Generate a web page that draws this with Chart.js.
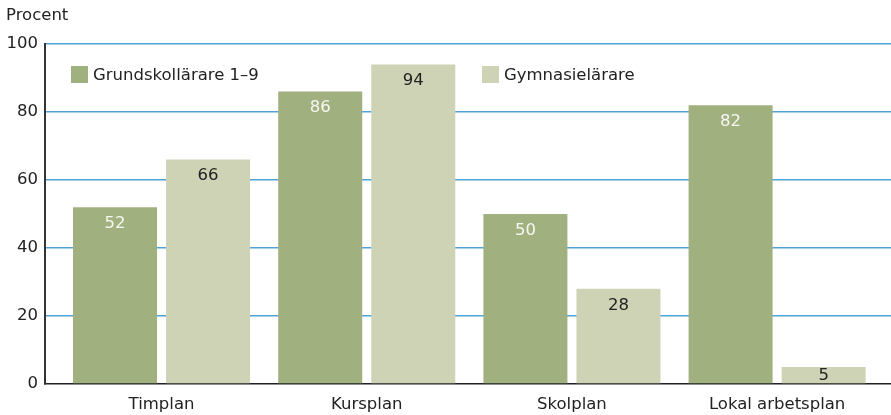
<!DOCTYPE html>
<html lang="sv">
<head>
<meta charset="utf-8">
<title>Procent</title>
<script src="https://cdn.jsdelivr.net/npm/chart.js@4.4.1/dist/chart.umd.min.js"></script>
<style>
  html, body { margin: 0; padding: 0; background: #fff; }
  #wrap { position: relative; width: 891px; height: 415px; }
  #legend { position: absolute; left: 0; top: 0; font: 16.5px "DejaVu Sans", sans-serif; color: #222; }
  #legend .item { position: absolute; white-space: nowrap; display: flex; align-items: center; }
  #legend .box { width: 17px; height: 17px; margin-right: 5px; }
</style>
</head>
<body>
<div id="wrap">
  <canvas id="chart"></canvas>
  <div id="legend"></div>
</div>
<script>
const categories = ['Timplan', 'Kursplan', 'Skolplan', 'Lokal arbetsplan'];
const seriesNames = ['Grundskollärare 1–9', 'Gymnasielärare'];
const grundskola = [52, 86, 50, 82];
const gymnasium = [66, 94, 28, 5];
const yTicks = [0, 20, 40, 60, 80, 100];

const FONT = '"DejaVu Sans", sans-serif';
const colors = ['#a1b07f', '#ced3b6'];
const labelColors = ['#f7f7f2', '#222222'];

// skriver värdet inne i stapeln, nära toppen
const valueLabels = {
  id: 'valueLabels',
  afterDatasetsDraw(chart) {
    const ctx = chart.ctx;
    ctx.save();
    ctx.font = '16.5px ' + FONT;
    ctx.textAlign = 'center';
    ctx.textBaseline = 'middle';
    chart.data.datasets.forEach((ds, i) => {
      ctx.fillStyle = labelColors[i];
      chart.getDatasetMeta(i).data.forEach((bar, j) => {
        const y = Math.min(bar.y + 16.5, (bar.y + bar.base) / 2 + 0.5);
        ctx.fillText(String(ds.data[j]), bar.x, y);
      });
    });
    ctx.restore();
  }
};

const chart = new Chart(document.getElementById('chart'), {
  type: 'bar',
  data: {
    labels: categories,
    datasets: [
      { label: seriesNames[0], data: grundskola, backgroundColor: colors[0] },
      { label: seriesNames[1], data: gymnasium, backgroundColor: colors[1] }
    ]
  },
  options: {
    responsive: true,
    maintainAspectRatio: false,
    animation: false,
    layout: { padding: { left: 6, right: 0, top: 0, bottom: 0 } },
    datasets: {
      bar: { categoryPercentage: 0.907, barPercentage: 0.903, borderWidth: 0 }
    },
    plugins: {
      legend: { display: false },
      tooltip: { enabled: false },
      title: {
        display: true,
        text: 'Procent',
        align: 'start',
        color: '#222',
        font: { family: FONT, size: 16.5, weight: 'normal' },
        padding: { top: 6, bottom: 18.2 }
      }
    },
    scales: {
      x: {
        offset: true,
        // flyttar kategorierna lite inåt från kanterna
        afterBuildTicks: s => { s._startValue = -0.568; s._valueRange = 4.123; },
        afterFit: s => { s.height = 31; },
        grid: { display: false, drawTicks: false },
        border: { display: true, color: '#222', width: 1.5 },
        ticks: { color: '#222', padding: 11, font: { family: FONT, size: 16.5 } }
      },
      y: {
        min: 0,
        max: 100,
        afterBuildTicks: s => { s.ticks = yTicks.map(v => ({ value: v })); },
        afterFit: s => { s.width = 39; },
        grid: {
          drawTicks: false,
          color: c => (c.tick && c.tick.value === 0) ? 'rgba(0,0,0,0)' : '#4fa3da',
          lineWidth: 1.5
        },
        border: { display: true, color: '#333', width: 2 },
        ticks: { color: '#222', padding: 7, font: { family: FONT, size: 16.5 } }
      }
    }
  },
  plugins: [valueLabels]
});

// legend inne i diagrammet, byggd från dataseten
const legendEl = document.getElementById('legend');
const legendX = [71, 482];
chart.data.datasets.forEach((ds, i) => {
  const item = document.createElement('div');
  item.className = 'item';
  item.style.left = legendX[i] + 'px';
  item.style.top = '65px';
  const box = document.createElement('span');
  box.className = 'box';
  box.style.background = ds.backgroundColor;
  item.appendChild(box);
  item.appendChild(document.createTextNode(ds.label));
  legendEl.appendChild(item);
});
</script>
</body>
</html>
